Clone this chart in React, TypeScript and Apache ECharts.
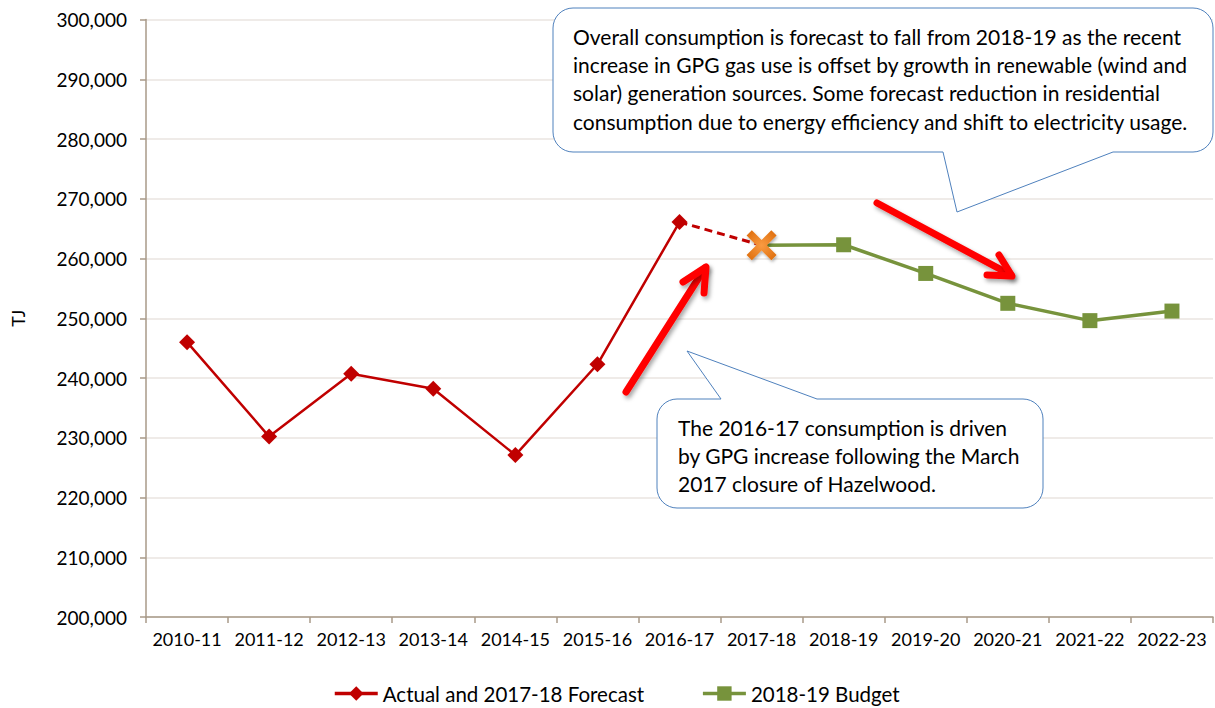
import React, { useEffect, useRef } from "react";
import * as echarts from "echarts";

const categories = [
  "2010-11", "2011-12", "2012-13", "2013-14", "2014-15", "2015-16", "2016-17",
  "2017-18", "2018-19", "2019-20", "2020-21", "2021-22", "2022-23",
];
const actualValues = [246000, 230200, 240700, 238200, 227100, 242300, 266100, null, null, null, null, null, null];
const forecastLink = [null, null, null, null, null, null, 266100, 262200, null, null, null, null, null];
const forecastPoint = [null, null, null, null, null, null, null, 262200, null, null, null, null, null];
const budgetValues = [null, null, null, null, null, null, null, 262200, 262300, 257500, 252500, 249600, 251200];

const yMin = 200000;
const yMax = 300000;
const yStep = 10000;

const topNote = [
  "Overall consumption is forecast to fall from 2018-19 as the recent",
  "increase in GPG gas use is offset by growth in renewable (wind and",
  "solar) generation sources. Some forecast reduction in residential",
  "consumption due to energy efficiency and shift to electricity usage.",
];
const bottomNote = [
  "The 2016-17 consumption is driven",
  "by GPG increase following the March",
  "2017 closure of Hazelwood.",
];

const FONT = "Lato, 'Open Sans', sans-serif";

echarts.graphic.registerShape(
  "calloutTop",
  echarts.graphic.extendPath(
    "M 573 8 L 1193 8 A 20 20 0 0 1 1213 28 L 1213 132 A 20 20 0 0 1 1193 152 L 1113 152 L 957 212 L 943 152 L 573 152 A 20 20 0 0 1 553 132 L 553 28 A 20 20 0 0 1 573 8 Z",
    {}
  )
);
echarts.graphic.registerShape(
  "calloutBottom",
  echarts.graphic.extendPath(
    "M 677 399 L 721 399 L 687 351 L 817 399 L 1023 399 A 20 20 0 0 1 1043 419 L 1043 488 A 20 20 0 0 1 1023 508 L 677 508 A 20 20 0 0 1 657 488 L 657 419 A 20 20 0 0 1 677 399 Z",
    {}
  )
);

const XPATH =
  "path://M3.5,0 L10,6.5 L16.5,0 L20,3.5 L13.5,10 L20,16.5 L16.5,20 L10,13.5 L3.5,20 L0,16.5 L6.5,10 L0,3.5 Z";

export default function App() {
  const ref = useRef<HTMLDivElement>(null);
  useEffect(() => {
    document.body.style.margin = "0";
    const chart = echarts.init(ref.current!, null, { renderer: "svg" });
    const arrowStyle = {
      stroke: "#FF0000",
      lineWidth: 7,
      lineCap: "round",
      lineJoin: "round",
      fill: null,
      shadowBlur: 4,
      shadowColor: "rgba(0,0,0,0.35)",
      shadowOffsetX: 2,
      shadowOffsetY: 3,
    };
    chart.setOption({
      animation: false,
      backgroundColor: "#ffffff",
      textStyle: { fontFamily: FONT },
      grid: { left: 146, right: 2, top: 19.5, bottom: 91, containLabel: false },
      legend: {
        left: 328,
        top: 678,
        itemWidth: 43,
        itemHeight: 18,
        itemGap: 57,
        data: ["Actual and 2017-18 Forecast", "2018-19 Budget"],
        lineStyle: { width: 3.5 },
        textStyle: { fontFamily: FONT, fontSize: 20.5, color: "#000" },
      },
      xAxis: {
        type: "category",
        data: categories,
        boundaryGap: true,
        axisLine: { show: true, lineStyle: { color: "#A89A88", width: 1.5 } },
        axisTick: { show: true, length: 6, interval: 0, lineStyle: { color: "#A89A88", width: 1.5 } },
        axisLabel: { margin: 13, fontSize: 18, color: "#000", fontFamily: FONT, interval: 0 },
        splitLine: { show: false },
      },
      yAxis: {
        type: "value",
        min: yMin,
        max: yMax,
        interval: yStep,
        name: "TJ",
        nameLocation: "middle",
        nameRotate: 90,
        nameGap: 119,
        nameTextStyle: { fontSize: 18, color: "#000", fontFamily: FONT },
        axisLine: { show: true, lineStyle: { color: "#A89A88", width: 1.5 } },
        axisTick: { show: true, length: 6, lineStyle: { color: "#A89A88", width: 1.5 } },
        axisLabel: {
          margin: 19,
          fontSize: 19,
          color: "#000",
          fontFamily: FONT,
          formatter: (v: number) => v.toLocaleString("en-US"),
        },
        splitLine: { show: true, lineStyle: { color: "#EAE5E0", width: 1.5 } },
      },
      series: [
        {
          name: "Actual and 2017-18 Forecast",
          type: "line",
          data: actualValues,
          symbol: "diamond",
          symbolSize: 16,
          showAllSymbol: true,
          itemStyle: { color: "#C00000" },
          lineStyle: { color: "#C00000", width: 2.5 },
          z: 3,
        },
        {
          name: "forecast link",
          type: "line",
          data: forecastLink,
          symbol: "none",
          lineStyle: { color: "#C00000", width: 3, type: [8, 5] },
          z: 2,
        },
        {
          name: "2018-19 Budget",
          type: "line",
          data: budgetValues.map((v, i) => (i === 7 ? { value: v, symbol: "none" } : v)),
          symbol: "rect",
          symbolSize: 15,
          showAllSymbol: true,
          itemStyle: { color: "#77933C" },
          lineStyle: { color: "#77933C", width: 3.5 },
          z: 3,
        },
        {
          name: "2017-18 forecast point",
          type: "scatter",
          data: forecastPoint,
          symbol: XPATH,
          symbolSize: 30,
          itemStyle: {
            color: new echarts.graphic.RadialGradient(0.5, 0.5, 0.6, [
              { offset: 0, color: "#F99B42" },
              { offset: 1, color: "#E0700F" },
            ]),
            opacity: 1,
            shadowBlur: 3,
            shadowColor: "rgba(0,0,0,0.3)",
            shadowOffsetX: 1,
            shadowOffsetY: 2,
          },
          z: 5,
        },
      ],
      graphic: [
        {
          type: "calloutTop",
          x: 0,
          y: 0,
          z: 10,
          style: { fill: "#ffffff", stroke: "#4F81BD", lineWidth: 1 },
        },
        {
          type: "text",
          x: 573,
          y: 22,
          z: 11,
          style: {
            text: topNote.join("\n"),
            font: `21px ${FONT}`,
            fill: "#000",
            lineHeight: 28.3,
            verticalAlign: "top",
          },
        },
        {
          type: "calloutBottom",
          x: 0,
          y: 0,
          z: 10,
          style: { fill: "#ffffff", stroke: "#4F81BD", lineWidth: 1 },
        },
        {
          type: "text",
          x: 678,
          y: 413,
          z: 11,
          style: {
            text: bottomNote.join("\n"),
            font: `21px ${FONT}`,
            fill: "#000",
            lineHeight: 28,
            verticalAlign: "top",
          },
        },
        {
          type: "polyline",
          z: 12,
          shape: { points: [[626, 392], [705, 268]] },
          style: arrowStyle,
        },
        {
          type: "polyline",
          z: 12,
          shape: { points: [[683, 282], [706, 267], [704, 293]] },
          style: arrowStyle,
        },
        {
          type: "polyline",
          z: 12,
          shape: { points: [[877, 203], [1011, 275]] },
          style: arrowStyle,
        },
        {
          type: "polyline",
          z: 12,
          shape: { points: [[987, 275], [1012, 276], [999, 255]] },
          style: arrowStyle,
        },
      ],
    });
    return () => chart.dispose();
  }, []);
  return <div ref={ref} style={{ width: 1215, height: 708 }} />;
}
